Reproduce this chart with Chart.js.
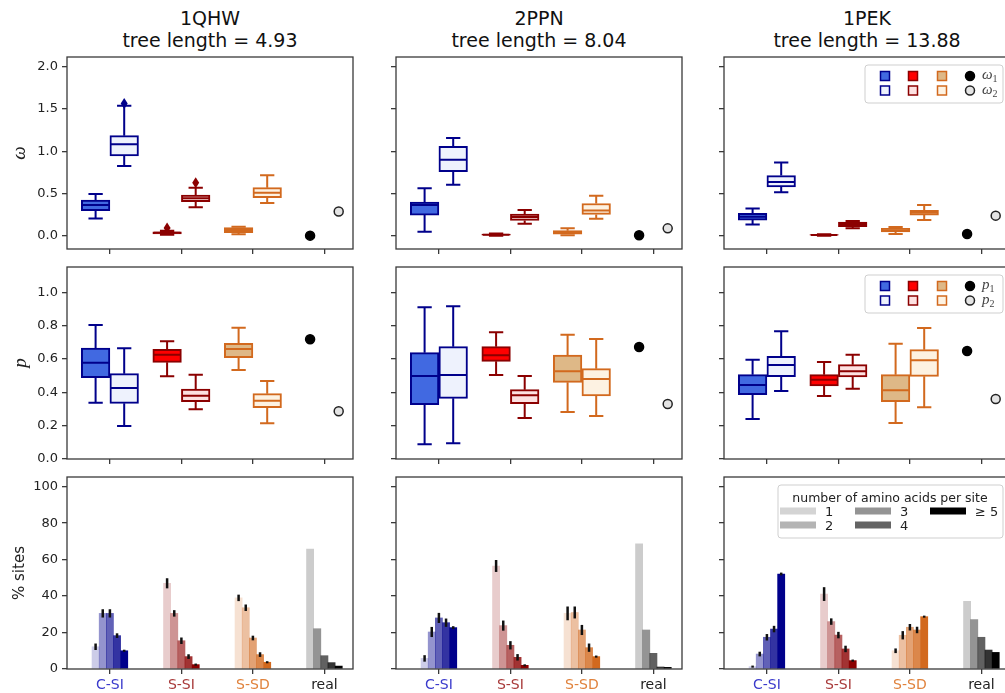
<!DOCTYPE html>
<html>
<head>
<meta charset="utf-8">
<title>dN/dS model fits</title>
<script src="https://cdn.jsdelivr.net/npm/chart.js@4.4.1/dist/chart.umd.min.js"></script>
<style>
  html, body { margin: 0; padding: 0; background: #fff; overflow: hidden; }
  body { width: 1005px; height: 693px; position: relative; }
  canvas { position: absolute; }
  .title {
    position: absolute; width: 320px; text-align: center;
    font-family: 'DejaVu Sans', sans-serif; font-size: 19px; line-height: 22px; color: #111;
  }
</style>
</head>
<body>
<div id="titles"></div>
<script>
// ---- data ----
const groups = ['C-SI', 'S-SI', 'S-SD', 'real'];
const proteins = ['1QHW', '2PPN', '1PEK'];
const treeLengths = ['4.93', '8.04', '13.88'];

// box stats per group (C-SI, S-SI, S-SD): [low whisker, q1, median, q3, high whisker]
const omega1_1QHW = [[0.205, 0.30, 0.366, 0.425, 0.496], [0.015, 0.025, 0.037, 0.05, 0.062], [0.02, 0.039, 0.071, 0.098, 0.11]];
const omega2_1QHW = [[0.827, 0.945, 1.083, 1.185, 1.54], [0.339, 0.405, 0.445, 0.484, 0.571], [0.39, 0.453, 0.512, 0.571, 0.717]];
const omega1Fliers_1QHW = [[], [0.095], []];
const omega2Fliers_1QHW = [[1.565], [0.63], []];
const omegaReal_1QHW = [0.004, 0.29];

const omega1_2PPN = [[0.051, 0.247, 0.365, 0.40, 0.565], [0.002, 0.008, 0.015, 0.022, 0.03], [0.008, 0.02, 0.043, 0.063, 0.09]];
const omega2_2PPN = [[0.604, 0.761, 0.902, 1.059, 1.157], [0.145, 0.184, 0.224, 0.259, 0.306], [0.204, 0.255, 0.302, 0.384, 0.475]];
const omegaReal_2PPN = [0.008, 0.09];

const omega1_1PEK = [[0.137, 0.188, 0.227, 0.267, 0.325], [0.004, 0.008, 0.012, 0.016, 0.02], [0.024, 0.047, 0.067, 0.09, 0.106]];
const omega2_1PEK = [[0.518, 0.58, 0.639, 0.714, 0.867], [0.09, 0.11, 0.141, 0.165, 0.176], [0.188, 0.247, 0.275, 0.302, 0.365]];
const omegaReal_1PEK = [0.024, 0.24];

const p1_1QHW = [[0.338, 0.488, 0.578, 0.666, 0.804], [0.496, 0.58, 0.626, 0.658, 0.706], [0.534, 0.608, 0.66, 0.694, 0.788]];
const p2_1QHW = [[0.198, 0.334, 0.426, 0.512, 0.664], [0.298, 0.344, 0.38, 0.42, 0.506], [0.214, 0.308, 0.35, 0.392, 0.468]];
const pReal_1QHW = [0.718, 0.286];

const p1_2PPN = [[0.088, 0.326, 0.498, 0.638, 0.91], [0.504, 0.586, 0.622, 0.674, 0.76], [0.282, 0.46, 0.526, 0.624, 0.746]];
const p2_2PPN = [[0.094, 0.364, 0.504, 0.674, 0.916], [0.246, 0.332, 0.382, 0.416, 0.498], [0.258, 0.378, 0.48, 0.542, 0.72]];
const pReal_2PPN = [0.672, 0.33];

const p1_1PEK = [[0.24, 0.386, 0.444, 0.506, 0.596], [0.378, 0.438, 0.476, 0.506, 0.582], [0.216, 0.344, 0.412, 0.506, 0.692]];
const p2_1PEK = [[0.408, 0.494, 0.564, 0.616, 0.766], [0.422, 0.492, 0.526, 0.566, 0.626], [0.31, 0.496, 0.592, 0.656, 0.786]];
const pReal_1PEK = [0.648, 0.36];

// % sites with 1, 2, 3, 4, >=5 amino acids, per group (C-SI, S-SI, S-SD, real)
const sites_1QHW = [[12.2, 30.5, 30.5, 18.3, 10.0], [47.0, 30.5, 15.5, 6.8, 2.4], [39.0, 33.6, 17.0, 7.9, 3.7], [65.8, 22.1, 7.3, 3.5, 1.6]];
const sitesErr_1QHW = [[1.5, 2, 2, 1, 0.3], [2.5, 1.5, 1.5, 1, 0.3], [1.5, 1.5, 1, 1, 0.3], [0, 0, 0, 0, 0]];
const sites_2PPN = [[5.8, 20.3, 28.0, 25.4, 22.7], [56.5, 23.8, 13.0, 6.4, 2.0], [30.5, 31.0, 21.4, 11.7, 6.8], [68.6, 21.4, 8.6, 1.1, 0.9]];
const sitesErr_2PPN = [[1.5, 2.5, 2.5, 2, 0.5], [3, 2.5, 2, 1.5, 0.3], [3.5, 3, 2.5, 2, 0.3], [0, 0, 0, 0, 0]];
const sites_1PEK = [[1.3, 8.2, 17.4, 21.9, 52.1], [41.1, 26.0, 18.6, 11.0, 4.6], [10.0, 18.5, 22.9, 21.4, 28.7], [37.1, 27.1, 17.4, 10.4, 9.1]];
const sitesErr_1PEK = [[0.3, 1, 1.5, 1.5, 0.5], [3.5, 1.5, 1.5, 1.5, 0.3], [1, 2, 1.5, 1.5, 0.3], [0, 0, 0, 0, 0]];

const omegaTicks = [0, 0.5, 1, 1.5, 2];
const pTicks = [0, 0.2, 0.4, 0.6, 0.8, 1.0];
const sitesTicks = [0, 20, 40, 60, 80, 100];
const aaLegendLabels = ['1', '2', '3', '4', '\u2265 5'];

// ---- styling ----
const edgeColors = ['#00008b', '#8b0000', '#d2691e'];
const fillFull = ['#4169e1', '#ff0000', '#deb887'];
const fillOpen = ['#eef2fd', '#fde1e1', '#fdf2e2'];
const barBase = ['#00008b', '#8b0000', '#d2691e', '#000000'];
const barAlpha = [0.2, 0.42, 0.62, 0.8, 1.0];
const aaLegendColors = ['#d4d4d4', '#b4b4b4', '#949494', '#646464', '#000000'];
const groupLabelColors = ['#3b3bcc', '#a83a3a', '#e0823c', '#222222'];
const AXIS = '#3a3a3a';

const PLOT_L = [67, 396, 724];
const PLOT_T = [57, 267, 477];
const PLOT_W = 286, PLOT_H = 192, PAD = 6;

Chart.defaults.font.family = "'DejaVu Sans', sans-serif";
Chart.defaults.font.size = 13;
Chart.defaults.color = '#222';
Chart.defaults.animation = false;
Chart.defaults.events = [];
Chart.defaults.plugins.legend.display = false;
Chart.defaults.plugins.tooltip.enabled = false;

function rgba(hex, a) {
  const n = parseInt(hex.slice(1), 16);
  return `rgba(${n >> 16}, ${(n >> 8) & 255}, ${n & 255}, ${a})`;
}

// column titles
proteins.forEach((name, c) => {
  const d = document.createElement('div');
  d.className = 'title';
  d.style.left = (PLOT_L[c] + PLOT_W / 2 - 160) + 'px';
  d.style.top = '7px';
  d.innerHTML = name + '<br>tree length = ' + treeLengths[c];
  document.getElementById('titles').appendChild(d);
});

function makeCanvas(left, top, w, h) {
  const cv = document.createElement('canvas');
  cv.width = w; cv.height = h;
  cv.style.left = left + 'px'; cv.style.top = top + 'px';
  cv.style.width = w + 'px'; cv.style.height = h + 'px';
  document.body.appendChild(cv);
  return cv;
}

// full box around the axes
const framePlugin = {
  id: 'frame',
  afterDraw(chart) {
    const { ctx, chartArea: a } = chart;
    ctx.save();
    ctx.strokeStyle = AXIS;
    ctx.lineWidth = 1.3;
    ctx.strokeRect(a.left, a.top, a.right - a.left, a.bottom - a.top);
    ctx.restore();
  }
};

// whiskers, caps, medians and fliers on top of the floating-bar boxes
const boxExtras = {
  id: 'boxExtras',
  afterDatasetsDraw(chart) {
    const { ctx, scales: { x, y } } = chart;
    const half = (x.getPixelForValue(0.2) - x.getPixelForValue(0));
    const cap = half / 2;
    chart.data.datasets.forEach(ds => {
      if (!ds.stats) return;
      ds.stats.forEach((s, g) => {
        const cx = x.getPixelForValue(g + ds.shift);
        const py = v => y.getPixelForValue(v);
        ctx.save();
        ctx.strokeStyle = edgeColors[g];
        ctx.lineWidth = 2;
        ctx.beginPath();
        ctx.moveTo(cx, py(s[0])); ctx.lineTo(cx, py(s[1]));
        ctx.moveTo(cx, py(s[3])); ctx.lineTo(cx, py(s[4]));
        ctx.moveTo(cx - cap, py(s[0])); ctx.lineTo(cx + cap, py(s[0]));
        ctx.moveTo(cx - cap, py(s[4])); ctx.lineTo(cx + cap, py(s[4]));
        ctx.moveTo(cx - half + 1, py(s[2])); ctx.lineTo(cx + half - 1, py(s[2]));
        ctx.stroke();
        ctx.fillStyle = edgeColors[g];
        (ds.fliers[g] || []).forEach(v => {
          const fy = py(v);
          ctx.beginPath();
          ctx.moveTo(cx, fy - 5.5); ctx.lineTo(cx + 3.5, fy);
          ctx.lineTo(cx, fy + 5.5); ctx.lineTo(cx - 3.5, fy);
          ctx.closePath();
          ctx.fill();
        });
        ctx.restore();
      });
    });
  }
};

// black error bars on the % sites bars
const errorBars = {
  id: 'errorBars',
  afterDatasetsDraw(chart) {
    const { ctx, scales: { y } } = chart;
    chart.data.datasets.forEach((ds, i) => {
      if (!ds.errors) return;
      const meta = chart.getDatasetMeta(i);
      ds.errors.forEach((e, k) => {
        if (!e) return;
        const bar = meta.data[k];
        const v = ds.data[k].y;
        ctx.save();
        ctx.strokeStyle = '#111';
        ctx.lineWidth = 2.5;
        ctx.beginPath();
        ctx.moveTo(bar.x, y.getPixelForValue(v - e) + 0.5);
        ctx.lineTo(bar.x, y.getPixelForValue(v + e) - 0.5);
        ctx.stroke();
        ctx.restore();
      });
    });
  }
};

function roundBox(ctx, x, y, w, h, r) {
  ctx.beginPath();
  ctx.moveTo(x + r, y);
  ctx.arcTo(x + w, y, x + w, y + h, r);
  ctx.arcTo(x + w, y + h, x, y + h, r);
  ctx.arcTo(x, y + h, x, y, r);
  ctx.arcTo(x, y, x + w, y, r);
  ctx.closePath();
  ctx.fillStyle = 'rgba(255,255,255,0.85)';
  ctx.fill();
  ctx.strokeStyle = '#cfcfcf';
  ctx.lineWidth = 1;
  ctx.stroke();
}

// legend with the box colours and the real-data markers
function symbolLegend(sym) {
  return {
    id: 'symbolLegend',
    afterDraw(chart) {
      const { ctx, chartArea: a } = chart;
      const L = a.left, T = a.top;
      ctx.save();
      roundBox(ctx, L + 141, T + 8, 138, 38, 3);
      const rows = [T + 19, T + 33.5];
      const xs = [L + 161, L + 189, L + 218];
      rows.forEach((ry, r) => {
        xs.forEach((sx, g) => {
          ctx.fillStyle = r === 0 ? fillFull[g] : fillOpen[g];
          ctx.strokeStyle = edgeColors[g];
          ctx.lineWidth = 1.5;
          ctx.fillRect(sx - 4.5, ry - 4.5, 9, 9);
          ctx.strokeRect(sx - 4.5, ry - 4.5, 9, 9);
        });
        ctx.beginPath();
        ctx.arc(L + 246, ry, 4.5, 0, Math.PI * 2);
        ctx.fillStyle = r === 0 ? '#000' : '#e4e4e4';
        ctx.fill();
        ctx.strokeStyle = r === 0 ? '#000' : '#222';
        ctx.lineWidth = 1.5;
        ctx.stroke();
        ctx.fillStyle = '#444';
        ctx.textBaseline = 'alphabetic';
        ctx.textAlign = 'left';
        ctx.font = "italic 15px 'Liberation Serif', serif";
        ctx.fillText(sym, L + 258, ry + 3);
        const w = ctx.measureText(sym).width;
        ctx.font = "10px 'Liberation Serif', serif";
        ctx.fillText(String(r + 1), L + 258 + w, ry + 6);
      });
      ctx.restore();
    }
  };
}

// legend for the number of amino acids per site
const aaLegend = {
  id: 'aaLegend',
  afterDraw(chart) {
    const { ctx, chartArea: a } = chart;
    const L = a.left, T = a.top;
    ctx.save();
    roundBox(ctx, L + 54, T + 8, 225, 53, 3);
    ctx.fillStyle = '#222';
    ctx.textAlign = 'center';
    ctx.textBaseline = 'alphabetic';
    ctx.font = "12.5px 'DejaVu Sans', sans-serif";
    ctx.fillText('number of amino acids per site', L + 166, T + 24.5);
    const cols = [L + 56, L + 56, L + 131, L + 131, L + 206];
    const rows = [T + 34, T + 48, T + 34, T + 48, T + 34];
    ctx.textAlign = 'left';
    ctx.font = "13px 'DejaVu Sans', sans-serif";
    aaLegendLabels.forEach((lab, k) => {
      ctx.fillStyle = aaLegendColors[k];
      ctx.fillRect(cols[k], rows[k] - 3.5, 36, 7);
      ctx.fillStyle = '#222';
      ctx.fillText(lab, cols[k] + 45, rows[k] + 5);
    });
    ctx.restore();
  }
};

function xScale(showLabels) {
  return {
    type: 'linear', min: -0.6, max: 3.4, offset: false,
    grid: { drawOnChartArea: false, drawTicks: true, tickLength: 5, color: AXIS, lineWidth: 1.3, offset: false },
    border: { display: false },
    afterBuildTicks: s => { s.ticks = [0, 1, 2, 3].map(v => ({ value: v })); },
    afterFit: s => { s.height = showLabels ? 24 : 8; s.paddingLeft = 0; s.paddingRight = 0; },
    ticks: {
      display: showLabels, padding: 3, autoSkip: false, maxRotation: 0,
      font: { size: 14 },
      callback: v => groups[v],
      color: c => groupLabelColors[c.index]
    }
  };
}

function yScale(col, min, max, ticks, fmt, title) {
  return {
    type: 'linear', min: min, max: max,
    grid: { drawOnChartArea: false, drawTicks: true, tickLength: 5, color: AXIS, lineWidth: 1.3 },
    border: { display: false },
    afterBuildTicks: s => { s.ticks = ticks.map(v => ({ value: v })); },
    afterFit: s => { s.width = col === 0 ? 67 : 10; s.paddingTop = 0; s.paddingBottom = 0; },
    ticks: { display: col === 0, padding: 4, autoSkip: false, callback: fmt },
    title: col === 0 ? title : { display: false }
  };
}

function boxChart(col, row, s1, s2, f1, f2, real, yMin, yMax, ticks, title, legendSym) {
  const yW = col === 0 ? 67 : 10;
  const xH = 8;
  const cv = makeCanvas(PLOT_L[col] - yW, PLOT_T[row] - PAD, yW + PLOT_W + PAD, PAD + PLOT_H + xH);
  const plugins = [boxExtras, framePlugin];
  if (legendSym) plugins.push(symbolLegend(legendSym));
  new Chart(cv, {
    type: 'bar',
    data: {
      datasets: [
        {
          data: s1.map((s, g) => ({ x: g - 0.2, y: [s[1], s[3]] })),
          backgroundColor: fillFull, borderColor: edgeColors, borderWidth: 2, borderSkipped: false,
          grouped: false, barPercentage: 1, categoryPercentage: 1,
          stats: s1, fliers: f1, shift: -0.2
        },
        {
          data: s2.map((s, g) => ({ x: g + 0.2, y: [s[1], s[3]] })),
          backgroundColor: fillOpen, borderColor: edgeColors, borderWidth: 2, borderSkipped: false,
          grouped: false, barPercentage: 1, categoryPercentage: 1,
          stats: s2, fliers: f2, shift: 0.2
        },
        {
          type: 'scatter', showLine: false,
          data: [{ x: 2.8, y: real[0] }, { x: 3.2, y: real[1] }],
          pointRadius: 4.5,
          pointBackgroundColor: ['#000', '#e4e4e4'],
          pointBorderColor: ['#000', '#222'],
          pointBorderWidth: 1.5
        }
      ]
    },
    options: {
      responsive: false,
      maintainAspectRatio: false,
      layout: { padding: { top: PAD, right: PAD, left: 0, bottom: 0 } },
      scales: {
        x: xScale(false),
        y: yScale(col, yMin, yMax, ticks, v => v.toFixed(1), title)
      }
    },
    plugins: plugins
  });
}

function sitesChart(col, values, errors, withLegend) {
  const yW = col === 0 ? 67 : 10;
  const xH = 24;
  const cv = makeCanvas(PLOT_L[col] - yW, PLOT_T[2] - PAD, yW + PLOT_W + PAD, PAD + PLOT_H + xH);
  const plugins = [errorBars, framePlugin];
  if (withLegend) plugins.push(aaLegend);
  new Chart(cv, {
    type: 'bar',
    data: {
      datasets: values.map((vals, g) => ({
        data: vals.map((v, k) => ({ x: g + (k - 2) * 0.1, y: v })),
        backgroundColor: vals.map((v, k) => rgba(barBase[g], barAlpha[k])),
        borderWidth: 0,
        grouped: false, barPercentage: 1, categoryPercentage: 1,
        errors: errors[g]
      }))
    },
    options: {
      responsive: false,
      maintainAspectRatio: false,
      layout: { padding: { top: PAD, right: PAD, left: 0, bottom: 0 } },
      scales: {
        x: xScale(true),
        y: yScale(col, 0, 105.3, sitesTicks, v => String(v), {
          display: true, text: '% sites', color: '#222',
          font: { family: "'DejaVu Sans', sans-serif", size: 15 },
          padding: { top: 11, bottom: 0 }
        })
      }
    },
    plugins: plugins
  });
}

const omegaTitle = {
  display: true, text: '\u03c9', color: '#222',
  font: { family: "'Liberation Serif', serif", style: 'italic', size: 19 },
  padding: { top: 9, bottom: 0 }
};
const pTitle = {
  display: true, text: 'p', color: '#222',
  font: { family: "'Liberation Serif', serif", style: 'italic', size: 19 },
  padding: { top: 10, bottom: 0 }
};

// row 1: omega
boxChart(0, 0, omega1_1QHW, omega2_1QHW, omega1Fliers_1QHW, omega2Fliers_1QHW, omegaReal_1QHW, -0.154, 2.115, omegaTicks, omegaTitle, null);
boxChart(1, 0, omega1_2PPN, omega2_2PPN, [[], [], []], [[], [], []], omegaReal_2PPN, -0.154, 2.115, omegaTicks, omegaTitle, null);
boxChart(2, 0, omega1_1PEK, omega2_1PEK, [[], [], []], [[], [], []], omegaReal_1PEK, -0.154, 2.115, omegaTicks, omegaTitle, '\u03c9');

// row 2: p
boxChart(0, 1, p1_1QHW, p2_1QHW, [[], [], []], [[], [], []], pReal_1QHW, 0, 1.152, pTicks, pTitle, null);
boxChart(1, 1, p1_2PPN, p2_2PPN, [[], [], []], [[], [], []], pReal_2PPN, 0, 1.152, pTicks, pTitle, null);
boxChart(2, 1, p1_1PEK, p2_1PEK, [[], [], []], [[], [], []], pReal_1PEK, 0, 1.152, pTicks, pTitle, 'p');

// row 3: % sites
sitesChart(0, sites_1QHW, sitesErr_1QHW, false);
sitesChart(1, sites_2PPN, sitesErr_2PPN, false);
sitesChart(2, sites_1PEK, sitesErr_1PEK, true);
</script>
</body>
</html>
